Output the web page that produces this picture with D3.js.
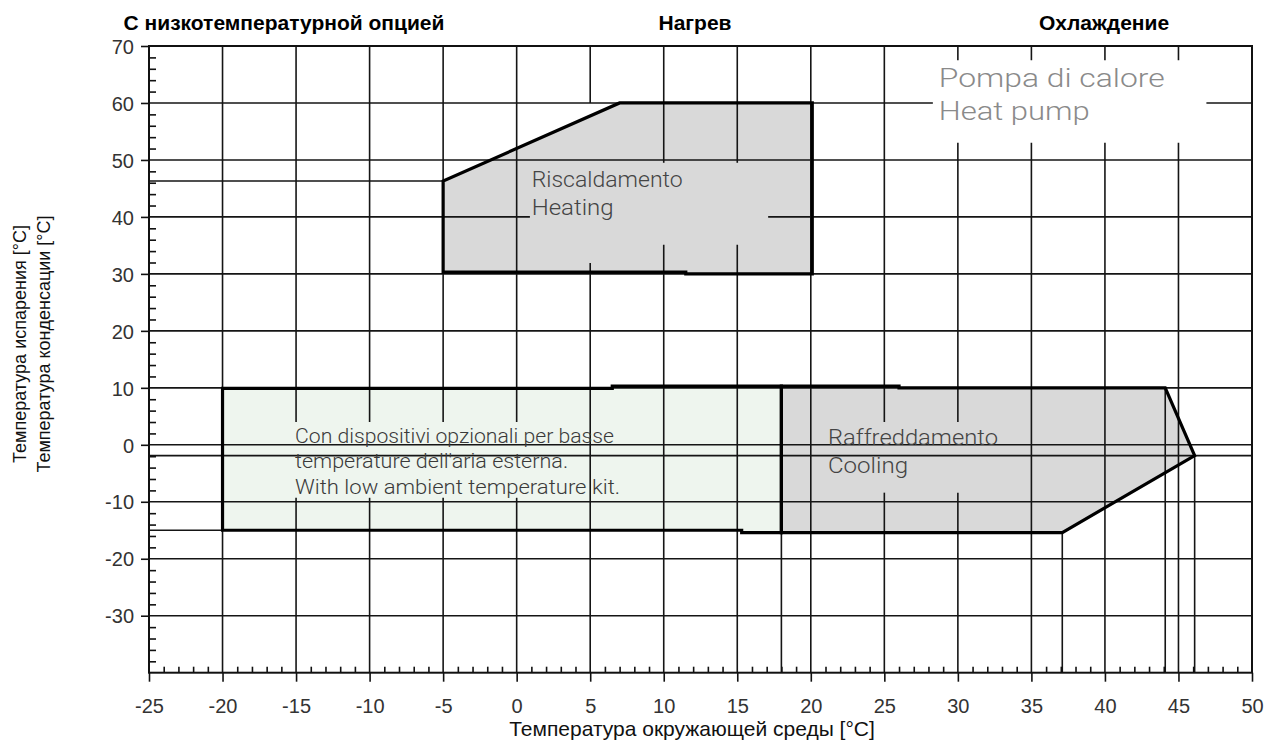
<!DOCTYPE html>
<html>
<head>
<meta charset="utf-8">
<script src="https://cdn.jsdelivr.net/npm/d3@7"></script>
<style>
  html, body { margin: 0; padding: 0; background: #fff; }
  svg { display: block; }
</style>
</head>
<body>
<svg id="chart" width="1270" height="742"></svg>
<script>
// ---------- data ----------
const xDomain = [-25, 50];
const yDomain = [-40, 70];
const xMajorTicks = [-25, -20, -15, -10, -5, 0, 5, 10, 15, 20, 25, 30, 35, 40, 45, 50];
const yMajorTicks = [-30, -20, -10, 0, 10, 20, 30, 40, 50, 60, 70];
const xGridValues = [-20, -15, -10, -5, 0, 5, 10, 15, 20, 25, 30, 35, 40, 45, 50];
const yGridValues = [-30, -20, -10, 0, 10, 20, 30, 40, 50, 60, 70];

// operating envelopes (ambient temperature, evap/cond temperature)
const lowAmbientEnvelope = [[-20, 9.9], [6.5, 9.9], [6.5, 10.3], [18, 10.3], [18, -15.4], [15.3, -15.4], [15.3, -15.0], [-20, -15.0]];
const heatingEnvelope = [[-5, 30.3], [-5, 46.3], [7, 60], [20.1, 60], [20.1, 30], [11.5, 30], [11.5, 30.3]];
const coolingEnvelope = [[18, 10.3], [26, 10.3], [26, 10], [44.1, 10], [46.1, -1.9], [37.1, -15.4], [18, -15.4]];

// reference lines drawn from envelope corners: [x1, y1, x2, y2]
const referenceLines = [
  [-25, 46.3, -5, 46.3],
  [-25, -1.9, 50, -1.9],
  [-25, -15.0, -20, -15.0],
  [18, -40, 18, -15.4],
  [37.1, -40, 37.1, -15.4],
  [44.1, -40, 44.1, 10],
  [46.1, -40, 46.1, -1.9]
];

// grid gaps behind the labels: direction, grid value, from, to
const gridGaps = [
  ["v", -15, -9.3, 4.0], ["v", -10, -9.3, 4.0], ["v", -5, -9.3, 4.0], ["v", 0, -9.3, 4.0],
  ["v", 25, -8.4, 4.0], ["v", 30, -8.4, 4.0],
  ["v", 10, 35.1, 49.5], ["v", 15, 35.1, 49.5], ["v", 5, 31.9, 60],
  ["h", 40, 0.9, 17.1],
  ["v", 30, 53.0, 67.5], ["v", 35, 53.0, 67.5], ["v", 40, 53.0, 67.5], ["v", 45, 53.0, 67.5],
  ["h", 60, 28.3, 46.9]
];

const topTitles = ["С низкотемпературной опцией", "Нагрев", "Охлаждение"];
const xAxisTitle = "Температура окружающей среды [°C]";
const yAxisTitles = ["Температура испарения [°C]", "Температура конденсации [°C]"];
const lowAmbientText = ["Con dispositivi opzionali per basse", "temperature dell'aria esterna.", "With low ambient temperature kit."];
const heatingText = ["Riscaldamento", "Heating"];
const coolingText = ["Raffreddamento", "Cooling"];
const pumpText = ["Pompa di calore", "Heat pump"];

// ---------- layout ----------
const svg = d3.select("#chart");
const x = d3.scaleLinear().domain(xDomain).range([149, 1252]);
const y = d3.scaleLinear().domain(yDomain).range([672.7, 46]);
const gridColor = "#151515";

const line = d3.line().x(d => x(d[0])).y(d => y(d[1]));

// fills
svg.append("path").attr("d", line(lowAmbientEnvelope) + "Z").attr("fill", "#eef5ee");
svg.append("path").attr("d", line(heatingEnvelope) + "Z").attr("fill", "#d9d9d9");
svg.append("path").attr("d", line(coolingEnvelope) + "Z").attr("fill", "#d9d9d9");

// grid with gaps
function segments(dir, v, lo, hi) {
  const gaps = gridGaps.filter(g => g[0] === dir && g[1] === v).map(g => [g[2], g[3]]).sort((a, b) => a[0] - b[0]);
  const segs = [];
  let start = lo;
  gaps.forEach(g => { if (g[0] > start) segs.push([start, g[0]]); start = Math.max(start, g[1]); });
  if (start < hi) segs.push([start, hi]);
  return segs;
}
const grid = svg.append("g").attr("stroke", gridColor).attr("stroke-width", 1.6).attr("fill", "none");
xGridValues.forEach(v => {
  segments("v", v, yDomain[0], yDomain[1]).forEach(s => {
    grid.append("line").attr("x1", x(v)).attr("x2", x(v)).attr("y1", y(s[0])).attr("y2", y(s[1]));
  });
});
yGridValues.forEach(v => {
  segments("h", v, xDomain[0], xDomain[1]).forEach(s => {
    grid.append("line").attr("x1", x(s[0])).attr("x2", x(s[1])).attr("y1", y(v)).attr("y2", y(v));
  });
});
referenceLines.forEach(r => {
  grid.append("line").attr("x1", x(r[0])).attr("y1", y(r[1])).attr("x2", x(r[2])).attr("y2", y(r[3]));
});

// outlines
[lowAmbientEnvelope, heatingEnvelope, coolingEnvelope].forEach(env => {
  svg.append("path").attr("d", line(env) + "Z").attr("fill", "none")
    .attr("stroke", "#000").attr("stroke-width", 3.2).attr("stroke-linejoin", "miter");
});

// axes
const minorX = d3.range(xDomain[0], xDomain[1] + 1, 1).filter(v => v % 5 !== 0);
const minorY = d3.range(yDomain[0], yDomain[1] + 1, 2).filter(v => v % 10 !== 0);
const axisFont = "'Liberation Sans', Arial, sans-serif";
const fmt = d => String(d);

const gx = svg.append("g").attr("transform", `translate(0,${y(yDomain[0])})`);
gx.call(d3.axisBottom(x).tickValues(xMajorTicks).tickSize(9).tickSizeOuter(0).tickPadding(17).tickFormat(fmt));
gx.append("g").call(d3.axisBottom(x).tickValues(minorX).tickSize(-6).tickSizeOuter(0).tickFormat(""));
const gy = svg.append("g").attr("transform", `translate(${x(xDomain[0])},0)`);
gy.call(d3.axisLeft(y).tickValues(yMajorTicks).tickSize(8).tickSizeOuter(0).tickPadding(7).tickFormat(fmt));
gy.append("g").call(d3.axisLeft(y).tickValues(minorY).tickSize(-7).tickSizeOuter(0).tickFormat(""));
svg.selectAll(".tick line").attr("stroke", "#111").attr("stroke-width", 1.6);
svg.selectAll(".tick text").attr("font-family", axisFont).attr("font-size", 20).attr("fill", "#333");
gy.selectAll(".tick text").attr("dy", "0.36em");
gx.selectAll(".tick text").attr("dy", "0.71em");
svg.selectAll(".domain").remove();
// frame
svg.append("rect").attr("x", x(xDomain[0])).attr("y", y(yDomain[1]))
  .attr("width", x(xDomain[1]) - x(xDomain[0])).attr("height", y(yDomain[0]) - y(yDomain[1]))
  .attr("fill", "none").attr("stroke", "#111").attr("stroke-width", 2);

// titles
const titleX = [284, 695, 1104];
topTitles.forEach((t, i) => {
  svg.append("text").attr("x", titleX[i]).attr("y", 30).attr("text-anchor", "middle")
    .attr("font-family", axisFont).attr("font-weight", "bold").attr("font-size", 21).attr("fill", "#000").text(t);
});
svg.append("text").attr("x", 692).attr("y", 736).attr("text-anchor", "middle")
  .attr("font-family", axisFont).attr("font-size", 21).attr("fill", "#111").text(xAxisTitle);
yAxisTitles.forEach((t, i) => {
  const bx = [26, 50][i];
  svg.append("text").attr("transform", `translate(${bx},344) rotate(-90)`).attr("text-anchor", "middle")
    .attr("font-family", axisFont).attr("font-size", 18).attr("fill", "#111").text(t);
});

// in-plot labels
const labelFont = "Roboto, 'DejaVu Sans', sans-serif";
function block(lines, xv, yvs, widths, size, color) {
  lines.forEach((t, i) => {
    svg.append("text").attr("x", x(xv)).attr("y", y(yvs[i]))
      .attr("font-family", labelFont).attr("font-weight", 300).attr("font-size", size).attr("fill", color)
      .attr("textLength", widths[i]).attr("lengthAdjust", "spacingAndGlyphs").text(t);
  });
}
block(lowAmbientText, -15.07, [0.26, -4.13, -8.64], [319, 273, 325], 21, "#3a3a3a");
block(heatingText, 1.02, [45.3, 40.3], [151, 82], 22, "#444");
block(coolingText, 21.17, [0.04, -4.95], [170, 80], 22, "#444");
block(pumpText, 28.7, [62.8, 57.0], [226, 151], 26, "#8a8a8a");
</script>
</body>
</html>
